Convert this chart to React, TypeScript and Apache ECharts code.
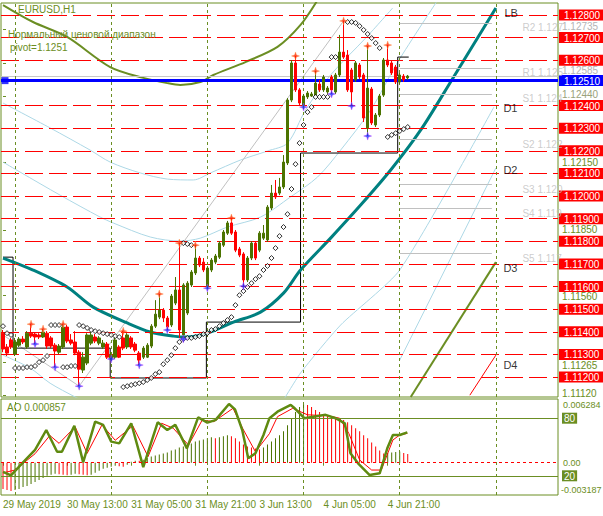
import React, { useEffect, useRef } from 'react';
import * as echarts from 'echarts';

const OLIVE = '#6b8e23';
const BULL = '#4b7300';
const BEAR = '#ff0000';
const FONT = 'Liberation Sans, Arial, sans-serif';

const slotCount = 139;
const categories = Array.from({ length: slotCount }, (_, i) => String(i));

// ---- candles (EURUSD H1) ----
const candleOpen = [
  1.11394, 1.11333, 1.11364, 1.11302, 1.11341, 1.11368, 1.11333, 1.11394, 1.1139, 1.11386,
  1.11377, 1.11394, 1.11373, 1.11341, 1.1131, 1.11333, 1.11421, 1.11364, 1.11355, 1.1131,
  1.11231, 1.11262, 1.1135, 1.11377, 1.1135, 1.11333, 1.11346, 1.11284, 1.11288, 1.11333,
  1.11373, 1.11333, 1.11373, 1.11346, 1.11306, 1.11288, 1.11288, 1.11337, 1.11425, 1.11465,
  1.11496, 1.11461, 1.1143, 1.11527, 1.11585, 1.11386, 1.11483, 1.11607, 1.1166, 1.11726,
  1.11708, 1.11598, 1.11673, 1.11708, 1.1173, 1.11783, 1.11836, 1.11881, 1.11841, 1.11766,
  1.11744, 1.11629, 1.11726, 1.11792, 1.11761, 1.11814, 1.11806, 1.11947, 1.12013, 1.12013,
  1.1204, 1.12146, 1.12424, 1.12588, 1.12469, 1.12398, 1.12438, 1.12442, 1.12446, 1.12495,
  1.12469, 1.1246, 1.12526, 1.1246, 1.12535, 1.12636, 1.12623, 1.12557, 1.12513, 1.12579,
  1.12535, 1.12301, 1.12473, 1.12314, 1.12358, 1.12446, 1.12601, 1.12588, 1.1257, 1.12504,
  1.1253, 1.12522,
];
const candleClose = [
  1.11324, 1.11306, 1.11333, 1.11355, 1.11368, 1.11355, 1.11394, 1.11381, 1.11377, 1.11377,
  1.11399, 1.11337, 1.11337, 1.11315, 1.11337, 1.11421, 1.11359, 1.1135, 1.11306, 1.11235,
  1.11288, 1.11386, 1.11386, 1.11359, 1.11373, 1.1135, 1.11288, 1.11297, 1.11364, 1.11288,
  1.11328, 1.11386, 1.11333, 1.11319, 1.11275, 1.11328, 1.11341, 1.11425, 1.11478, 1.11496,
  1.11461, 1.11421, 1.11558, 1.11585, 1.11408, 1.11607, 1.11615, 1.11664, 1.11726, 1.11695,
  1.11673, 1.11682, 1.11717, 1.11735, 1.11792, 1.11841, 1.11881, 1.11836, 1.11761, 1.11739,
  1.11629, 1.11726, 1.11792, 1.11726, 1.11836, 1.11836, 1.11951, 1.12013, 1.11996, 1.1204,
  1.1215, 1.12424, 1.12588, 1.12469, 1.12411, 1.12442, 1.12455, 1.12451, 1.12499, 1.12469,
  1.12526, 1.12477, 1.12469, 1.12535, 1.12636, 1.12614, 1.12469, 1.1246, 1.12588, 1.12526,
  1.12345, 1.12477, 1.12323, 1.12358, 1.12442, 1.12601, 1.12579, 1.12544, 1.12504, 1.12535,
  1.12513, 1.1253,
];
const candleLow = [
  1.1131, 1.11293, 1.11324, 1.11293, 1.11333, 1.11346, 1.11324, 1.11373, 1.11346, 1.11368,
  1.11373, 1.11324, 1.11328, 1.11244, 1.11302, 1.11324, 1.1135, 1.11341, 1.11297, 1.1116,
  1.11218, 1.11253, 1.11341, 1.1135, 1.11341, 1.11324, 1.1128, 1.1128, 1.1128, 1.11284,
  1.11319, 1.11324, 1.11324, 1.1131, 1.11253, 1.1128, 1.11284, 1.11328, 1.11417, 1.11456,
  1.11443, 1.11408, 1.11421, 1.11518, 1.11373, 1.11368, 1.11474, 1.11598, 1.11651, 1.11686,
  1.11664, 1.11593, 1.11664, 1.11699, 1.11722, 1.11775, 1.11828, 1.11828, 1.11752, 1.1173,
  1.11602, 1.1162, 1.11717, 1.11717, 1.11752, 1.11806, 1.11797, 1.11938, 1.11987, 1.12004,
  1.12031, 1.12137, 1.12415, 1.1246, 1.12402, 1.12393, 1.12429, 1.12438, 1.12442, 1.1246,
  1.1246, 1.12451, 1.12451, 1.12451, 1.12526, 1.12606, 1.1246, 1.12398, 1.12504, 1.12517,
  1.12327, 1.12265, 1.12314, 1.12305, 1.12349, 1.12438, 1.1257, 1.12535, 1.12495, 1.12495,
  1.12504, 1.12513,
];
const candleHigh = [
  1.11408, 1.11346, 1.11373, 1.11373, 1.11377, 1.11381, 1.11403, 1.11434, 1.11399, 1.11394,
  1.11412, 1.11403, 1.11381, 1.1135, 1.11346, 1.11434, 1.1143, 1.1139, 1.11403, 1.11319,
  1.1131, 1.11394, 1.11399, 1.1139, 1.11381, 1.11364, 1.11355, 1.1131, 1.11377, 1.11341,
  1.11403, 1.11394, 1.11381, 1.11355, 1.11315, 1.11337, 1.1135, 1.11434, 1.1154, 1.11567,
  1.11505, 1.1147, 1.11567, 1.11642, 1.11792, 1.11615, 1.11624, 1.11673, 1.11783, 1.11735,
  1.11726, 1.11691, 1.11726, 1.11744, 1.11801, 1.1185, 1.1189, 1.11903, 1.1185, 1.11775,
  1.11752, 1.11735, 1.11801, 1.11801, 1.11845, 1.11872, 1.1196, 1.12049, 1.12071, 1.1208,
  1.12181, 1.12433, 1.12601, 1.12619, 1.12477, 1.12451, 1.12464, 1.1246, 1.12552, 1.12513,
  1.12535, 1.12486, 1.12535, 1.12544, 1.12712, 1.12774, 1.12645, 1.12566, 1.12597, 1.12588,
  1.12544, 1.12663, 1.12482, 1.12367, 1.12451, 1.1261, 1.12667, 1.12597, 1.12579, 1.12544,
  1.12539, 1.12535,
];

// ---- price levels ----
const redLevels = [
  1.128, 1.127, 1.126, 1.124, 1.123, 1.122, 1.121, 1.12, 1.119, 1.118, 1.117, 1.116, 1.115, 1.114,
  1.113, 1.112,
];
const pivotPrice = 1.1251;
const bidLevel = 1.12528;
const scaleLabelsGray = [1.12735, 1.12585, 1.1244];
const scaleLabelsOlive = [1.1215, 1.1185, 1.1156, 1.11265, 1.1112];

const pivotNames = ['R2 1.127', 'R1 1.125', 'S1 1.124', 'S2 1.122', 'S3 1.120', 'S4 1.119', 'S5 1.117'];
const pivotLevels = [1.12765, 1.12566, 1.12451, 1.12252, 1.12053, 1.11947, 1.11748];
const pivotFrom = 99;
const pivotTo = 122;

const daySeparators = [3, 27, 51, 75, 99, 123];

const timeLabelIdx = [0, 16, 32, 48, 64, 80, 96];
const timeLabels = ['29 May 2019', '30 May 13:00', '31 May 05:00', '31 May 21:00', '3 Jun 13:00', '4 Jun 05:00', '4 Jun 21:00'];

// ---- overlay curves: [bar index, price] ----
const lbCurve = [
  [0, 1.11726], [7.5, 1.11673], [16, 1.11598], [22.5, 1.11509], [31, 1.11439], [36.75, 1.11399],
  [42.5, 1.11381], [46, 1.11377], [51, 1.11394], [57.5, 1.11443], [64.25, 1.11487], [70, 1.11571],
  [74.25, 1.11673], [81.75, 1.11814], [89.25, 1.1196], [96.75, 1.12115], [104.25, 1.12292],
  [112, 1.12513], [123, 1.12831],
];
const oliveCurve = [
  [0, 1.12844], [7.5, 1.12769], [16, 1.12703], [26.75, 1.1257], [35, 1.12522], [41, 1.12499],
  [44.25, 1.12491], [49.25, 1.12504], [52.5, 1.12535], [60.5, 1.12592], [68.5, 1.12659],
  [74.25, 1.12756], [78.5, 1.12866],
];
const d3Line = [[101.75, 1.11112], [123, 1.11708]];
const d4Line = [[116.5, 1.1112], [123, 1.11297]];
const channelUpper = [
  [0, 1.12411], [11.75, 1.12301], [21.75, 1.12203], [26.75, 1.1215], [34.25, 1.12102], [41, 1.12075],
  [47.5, 1.12071], [51.75, 1.12102], [59.25, 1.12159], [66, 1.12199], [71, 1.12234], [75.5, 1.1238],
  [81.75, 1.12535], [90.5, 1.12698], [97.25, 1.12831],
];
const channelMiddle = [
  [0, 1.1215], [4.25, 1.12106], [14.25, 1.12004], [24.25, 1.11907], [27.5, 1.11881], [36.75, 1.11819],
  [44.25, 1.11801], [49.25, 1.11814], [56, 1.11863], [64.25, 1.11907], [71.75, 1.11996],
  [78.5, 1.12084], [84.25, 1.12203], [91.75, 1.1238], [98.5, 1.12592], [108.5, 1.12866],
];
const channelLowerLeft = [[0, 1.11297], [6.75, 1.1124], [11.75, 1.11173], [18, 1.11112], [24.25, 1.11054]];
const channelLowerRight = [[69.25, 1.11076], [74.25, 1.11218], [84.25, 1.1143], [99, 1.11673], [122.5, 1.12393]];
const d2Line = [[99, 1.11275], [123, 1.12124]];
const zigzag = [[0, 1.11386], [19, 1.1116], [85, 1.12774]];
const rangeSteps = [
  [0, 1.1173], [2.5, 1.1173], [2.5, 1.11328], [26.75, 1.11328], [26.75, 1.11196], [50.75, 1.11196],
  [50.75, 1.11443], [74.25, 1.11443], [74.25, 1.1219], [98.5, 1.1219], [98.5, 1.12614], [101.25, 1.12614],
];

const sarPoints = [
  [0, 1.11425], [1, 1.11394], [2, 1.11386],
  [3, 1.1124], [4, 1.1124], [5, 1.1124], [6, 1.11244], [7, 1.11244], [8, 1.11249], [9, 1.11266], [10, 1.11275], [11, 1.11293],
  [12, 1.1143], [13, 1.1143], [14, 1.1143],
  [15, 1.11244], [16, 1.11244], [17, 1.11249], [18, 1.11249],
  [19, 1.1143], [20, 1.11425], [21, 1.11417], [22, 1.11408], [23, 1.11403], [24, 1.11399], [25, 1.11394], [26, 1.1139], [27, 1.11386], [28, 1.11381], [29, 1.11377],
  [30, 1.11156], [31, 1.1116], [32, 1.11165], [33, 1.11169], [34, 1.11173], [35, 1.11178], [36, 1.11187], [37, 1.11196], [38, 1.11213], [39, 1.11222], [40, 1.11257], [41, 1.11275], [42, 1.11297], [43, 1.11328], [44, 1.11355],
  [45, 1.11368], [46, 1.11373], [47, 1.11373], [48, 1.11377], [49, 1.11381], [50, 1.1139], [51, 1.11394], [52, 1.11408], [53, 1.11412], [54, 1.11425], [55, 1.11439], [56, 1.11452], [57, 1.11465], [58, 1.11518], [59, 1.11562], [60, 1.1158], [61, 1.11598], [62, 1.11615], [63, 1.11633], [64, 1.11646], [65, 1.11673], [66, 1.11691], [67, 1.11726], [68, 1.1177], [69, 1.11823], [70, 1.11863], [71, 1.1192], [72, 1.12031], [73, 1.12141], [74, 1.12234], [75, 1.12314], [76, 1.12371], [77, 1.12393],
  [45, 1.11792], [46, 1.11788], [47, 1.11783],
  [78, 1.12438], [79, 1.12438], [80, 1.12438], [81, 1.12438],
  [82, 1.12614], [83, 1.12614],
  [86, 1.12769], [87, 1.12769], [88, 1.12765], [89, 1.12751], [90, 1.12734], [91, 1.12716], [92, 1.12698], [93, 1.12676], [94, 1.12654],
  [96, 1.12261], [97, 1.1227], [98, 1.12278], [99, 1.12287], [100, 1.12296], [101, 1.12305],
];
const fractalUp = [
  [7, 1.11434], [10, 1.11412], [15, 1.11434], [30, 1.11403], [39, 1.11567], [44, 1.11792], [48, 1.11783],
  [57, 1.11903], [73, 1.12619], [78, 1.12552], [85, 1.12774], [91, 1.12663], [96, 1.12667],
];
const fractalDown = [
  [8, 1.11346], [13, 1.11244], [19, 1.1116], [27, 1.1128], [34, 1.11253], [41, 1.11408], [45, 1.11368],
  [51, 1.11593], [60, 1.11602], [75, 1.12393], [82, 1.12451], [87, 1.12398], [91, 1.12265],
];
const lineTags = [
  { name: 'LB', value: [125, 1.12809] },
  { name: 'D1', value: [124.75, 1.12389] },
  { name: 'D2', value: [124.75, 1.12115] },
  { name: 'D3', value: [124.75, 1.11682] },
  { name: 'D4', value: [124.75, 1.11253] },
];

// ---- lower panel ----
const aoValues = [
  -0.0026, -0.0027, -0.0028,
  -0.0027, -0.0026, -0.0024, -0.0023, -0.0021, -0.0019, -0.0017, -0.0015, -0.0013, -0.0012, -0.0011,
  -0.00115, -0.0012, -0.00125, -0.0012, -0.0011, -0.00115, -0.0012, -0.00125, -0.0012,
  -0.001, -0.0008, -0.0006, -0.0005, -0.0004, -0.0003, -0.00035, -0.0004, -0.0002,
  0.0001, 0.0002, 0.00018, 0.0003, 0.0005, 0.0006, 0.0007,
  0.0008, 0.0009, 0.001, 0.0012, 0.0013, 0.0015, 0.0016, 0.0018, 0.0019, 0.0021, 0.0022, 0.0023, 0.0024,
  0.0025, 0.0024, 0.0025, 0.0026, 0.0027, 0.0026,
  0.0024, 0.0021, 0.0018, 0.0016, 0.0015, 0.0014, 0.0013,
  0.0015, 0.0018, 0.0021, 0.0024, 0.0027, 0.0031, 0.0037, 0.0044, 0.005, 0.0055, 0.0058,
  0.0057, 0.0055, 0.0052, 0.005, 0.0048, 0.0047, 0.0045, 0.0044, 0.0043, 0.0042, 0.004, 0.0037, 0.0034, 0.0031, 0.0027, 0.0024, 0.002, 0.0016, 0.0012, 0.0009,
  0.00095, 0.001, 0.00105, 0.0011, 0.00095, 0.000857,
];
const aoTicks = [0.006284, 0, -0.003187];
const stochK = [
  [0, 24], [2, 20.5], [5, 34], [8, 47], [10.8, 67.7], [13.5, 45], [14.7, 45], [17.8, 72], [20, 34], [23, 76.4],
  [25, 73], [27, 55.6], [29, 53.8], [32, 74.7], [35, 29], [38.6, 75.7], [41, 67.7], [43, 73], [45.9, 48.6],
  [48.7, 80.9], [51, 75.4], [53, 78], [56.4, 94.8], [57.9, 89.2], [59.7, 67.7], [61.2, 38.2], [63, 43.4],
  [65, 62.5], [66.5, 80], [68.5, 86.8], [71.8, 93.8], [72.8, 90.3], [75.2, 80], [80.5, 83.5], [83, 80],
  [85.3, 74.7], [86.7, 43.4], [88.6, 33], [91.5, 20.8], [94, 22.6], [95.9, 48.6], [97.3, 62.5], [99, 62.5],
  [100.9, 65.3],
];
const stochD = [
  [0, 23], [3, 26], [8, 43], [11.7, 62], [14, 53.8], [18, 71], [21, 43.4], [24.7, 73], [28, 57], [32.4, 72],
  [36.2, 40], [39.6, 74.7], [42.5, 69.5], [46.3, 52], [49.7, 78], [52.6, 76.4], [57.4, 90.3], [59.8, 69.4],
  [63, 45], [66.5, 64], [68.5, 81.6], [72.3, 90.3], [76, 83.5], [81, 82.6], [84, 80], [86.3, 64.2], [89, 36.5],
  [92, 26], [94.4, 26], [97.3, 57.3], [99, 62.5], [100.9, 64.2],
];
const stochLevels = [80, 20];

const near = (a: number, b: number) => Math.abs(a - b) < 1e-7;

function buildOption() {
  const candles = candleOpen.map((o, i) => [o, candleClose[i], candleLow[i], candleHigh[i]]);
  const aoBars = aoValues.map((v, i) => ({
    value: v,
    itemStyle: { color: i > 0 && v > aoValues[i - 1] ? BULL : BEAR },
  }));
  const starPath = 'path://M5,0 L6.2,3.8 L10,5 L6.2,6.2 L5,10 L3.8,6.2 L0,5 L3.8,3.8 Z';
  const thinLine = (data: number[][], color: string, width = 1, smooth: number | boolean = false, z = 2) => ({
    type: 'line',
    xAxisIndex: 1,
    yAxisIndex: 0,
    data,
    showSymbol: false,
    smooth,
    silent: true,
    lineStyle: { color, width },
    z,
  });
  const hLines = (levels: number[], lineStyle: any, z: number) => ({
    type: 'line',
    xAxisIndex: 1,
    yAxisIndex: 0,
    data: [],
    silent: true,
    z,
    markLine: {
      silent: true,
      symbol: ['none', 'none'],
      label: { show: false },
      lineStyle,
      data: levels.map((v) => [{ coord: [-0.5, v] }, { coord: [slotCount - 0.5, v] }]),
    },
  });
  // small vertical nudges for scale labels that sit close to a boxed label
  const nudge: Record<string, string> = {
    '1.12735': 'gu',
    '1.12585': 'gd',
    '1.12440': 'gu2',
    '1.11560': 'od1',
    '1.11265': 'od',
    '1.11120': 'ou',
  };
  const priceFmt = (v: number) => {
    const s = v.toFixed(5);
    if (near(v, pivotPrice)) return `{b|${s}}`;
    if (redLevels.some((r) => near(r, v))) return `{r|${s}}`;
    if (nudge[s]) return `{${nudge[s]}|${s}}`;
    return `{o|${s}}`;
  };
  const txt = (c: string, pad: number[]) => ({ color: c, padding: pad, fontSize: 10, lineHeight: 9, fontFamily: FONT });

  return {
    animation: false,
    backgroundColor: '#ffffff',
    textStyle: { fontFamily: FONT },
    title: [
      { text: 'EURUSD,H1', left: 18, top: 4, padding: 0, textStyle: { fontSize: 10, color: OLIVE, fontWeight: 'normal', fontFamily: FONT } },
      { text: 'Нормальный ценовой диапазон', left: 8, top: 29, padding: 0, textStyle: { fontSize: 10, color: OLIVE, fontWeight: 'normal', fontFamily: FONT } },
      { text: 'pivot=1.1251', left: 10, top: 42, padding: 0, textStyle: { fontSize: 10, color: OLIVE, fontWeight: 'normal', fontFamily: FONT } },
      { text: 'AO 0.000857', left: 7, top: 402, padding: 0, textStyle: { fontSize: 10, color: OLIVE, fontWeight: 'normal', fontFamily: FONT } },
    ],
    grid: [
      { left: 1, top: 3, width: 557, height: 394, show: true, borderColor: OLIVE, borderWidth: 1, backgroundColor: 'transparent', containLabel: false, outerBoundsMode: 'none' },
      { left: 1, top: 399, width: 557, height: 96, show: true, borderColor: OLIVE, borderWidth: 1, backgroundColor: 'transparent', containLabel: false, outerBoundsMode: 'none' },
    ],
    xAxis: [
      { type: 'category', gridIndex: 0, data: categories, boundaryGap: true, show: false },
      { type: 'value', gridIndex: 0, min: -0.5, max: slotCount - 0.5, show: false },
      {
        type: 'category',
        gridIndex: 1,
        data: categories,
        boundaryGap: true,
        axisLine: { show: false },
        axisTick: {
          show: true,
          alignWithLabel: true,
          interval: (i: number) => timeLabelIdx.includes(i),
          length: 3,
          lineStyle: { color: OLIVE },
        },
        axisLabel: {
          interval: (i: number) => timeLabelIdx.includes(i),
          formatter: (_v: string, i: number) => timeLabels[timeLabelIdx.indexOf(i)] ?? '',
          align: 'left',
          margin: 4,
          color: OLIVE,
          fontSize: 10,
          fontFamily: FONT,
        },
        splitLine: { show: false },
      },
      { type: 'value', gridIndex: 1, min: -0.5, max: slotCount - 0.5, show: false },
    ],
    yAxis: [
      {
        type: 'value',
        gridIndex: 0,
        position: 'right',
        min: 1.11112,
        max: 1.12853,
        scale: true,
        splitLine: { show: false },
        axisLine: { show: false },
        axisTick: { show: true, customValues: [...scaleLabelsGray, ...scaleLabelsOlive], length: 3, lineStyle: { color: OLIVE } },
        axisLabel: {
          customValues: [...scaleLabelsGray, ...scaleLabelsOlive, ...redLevels, pivotPrice],
          margin: 1,
          formatter: priceFmt,
          fontFamily: FONT,
          fontSize: 10,
          rich: {
            r: { backgroundColor: '#ff0000', color: '#ffffff', padding: [1, 8, 0, 5], fontSize: 10, lineHeight: 10, fontFamily: FONT },
            b: { backgroundColor: '#0000ff', color: '#ffffff', padding: [1, 8, 0, 5], fontSize: 10, lineHeight: 10, fontFamily: FONT },
            gu: txt('#b4b4b4', [0, 0, 6, 3]),
            gu2: txt('#9aa27a', [0, 0, 4, 3]),
            gd: txt('#b4b4b4', [14, 0, 0, 3]),
            o: txt(OLIVE, [0, 0, 0, 3]),
            od1: txt(OLIVE, [2, 0, 0, 3]),
            od: txt(OLIVE, [6, 0, 0, 3]),
            ou: txt(OLIVE, [0, 0, 4, 3]),
          },
        },
      },
      {
        type: 'value',
        gridIndex: 1,
        position: 'right',
        min: -0.003187,
        max: 0.006284,
        splitLine: { show: false },
        axisLine: { show: false },
        axisTick: { show: false },
        axisLabel: {
          customValues: aoTicks,
          margin: 3,
          fontFamily: FONT,
          fontSize: 9,
          formatter: (v: number) => {
            if (near(v, 0)) return '{z|0.00}';
            if (v > 0) return `{t|${v.toFixed(6)}}`;
            return `{m|${v.toFixed(6)}}`;
          },
          rich: {
            t: { color: OLIVE, padding: [11, 0, 0, 2], fontSize: 9, lineHeight: 10, fontFamily: FONT },
            z: { color: OLIVE, padding: [0, 0, 0, 2], fontSize: 9, lineHeight: 10, fontFamily: FONT },
            m: { color: OLIVE, padding: [0, 0, 10, 0], fontSize: 9, lineHeight: 10, fontFamily: FONT },
          },
        },
      },
      {
        type: 'value',
        gridIndex: 1,
        position: 'right',
        min: 0,
        max: 100,
        splitLine: { show: false },
        axisLine: { show: false },
        axisTick: { show: false },
        axisLabel: {
          customValues: stochLevels,
          margin: 4,
          formatter: (v: number) => `{s|${v}}`,
          rich: {
            s: { backgroundColor: OLIVE, color: '#ffffff', padding: [1, 2, 0, 2], fontSize: 10, lineHeight: 11, fontFamily: FONT },
          },
        },
      },
    ],
    series: [
      // horizontal levels
      hLines(redLevels, { color: '#ff0000', type: [18, 6], width: 1 }, 1),
      hLines([bidLevel], { color: '#c8c8c8', type: 'solid', width: 1 }, 1),
      // channel / helper lines
      thinLine(channelUpper, '#add8e6', 1, 0.3),
      thinLine(channelMiddle, '#add8e6', 1, 0.3),
      thinLine(channelLowerLeft, '#add8e6', 1, 0.3),
      thinLine(channelLowerRight, '#add8e6', 1, 0.2),
      thinLine(d2Line, '#add8e6', 1),
      thinLine(zigzag, '#c0c0c0', 1),
      thinLine(rangeSteps, '#000000', 1, false, 3),
      thinLine(d4Line, '#ff0000', 1),
      thinLine(d3Line, '#6b8e23', 2),
      thinLine(oliveCurve, '#6b8e23', 2, 0.3),
      {
        ...thinLine(lbCurve, '#008080', 3, 0.3, 3),
        markLine: {
          silent: true,
          symbol: ['none', 'none'],
          label: { show: false },
          lineStyle: { color: OLIVE, type: [3, 3], width: 1 },
          data: daySeparators.map((i) => ({ xAxis: i })),
        },
      },
      {
        type: 'line',
        xAxisIndex: 1,
        yAxisIndex: 0,
        data: [],
        silent: true,
        markLine: {
          silent: true,
          symbol: ['none', 'none'],
          label: { show: false },
          lineStyle: { color: '#c0c0c0', width: 1, type: 'solid' },
          data: pivotLevels.map((v) => [{ coord: [pivotFrom, v] }, { coord: [pivotTo, v] }]),
        },
      },
      {
        type: 'candlestick',
        xAxisIndex: 0,
        yAxisIndex: 0,
        data: candles,
        barWidth: 3,
        silent: true,
        z: 5,
        itemStyle: { color: BULL, color0: BEAR, borderColor: BULL, borderColor0: BEAR, borderWidth: 1 },
      },
      {
        type: 'scatter',
        xAxisIndex: 1,
        yAxisIndex: 0,
        data: sarPoints,
        symbol: 'diamond',
        symbolSize: 5,
        silent: true,
        itemStyle: { color: '#ffffff', borderColor: '#000000', borderWidth: 1 },
        z: 6,
      },
      {
        type: 'scatter',
        xAxisIndex: 1,
        yAxisIndex: 0,
        data: fractalUp,
        symbol: starPath,
        symbolSize: 8,
        silent: true,
        itemStyle: { color: '#ff2000', borderColor: '#ff9040', borderWidth: 0.5 },
        z: 7,
      },
      {
        type: 'scatter',
        xAxisIndex: 1,
        yAxisIndex: 0,
        data: fractalDown,
        symbol: starPath,
        symbolSize: 8,
        silent: true,
        itemStyle: { color: '#1030ff', borderColor: '#c040ff', borderWidth: 0.5 },
        z: 7,
      },
      {
        type: 'scatter',
        xAxisIndex: 1,
        yAxisIndex: 0,
        data: pivotLevels.map((v, k) => ({ name: pivotNames[k], value: [129.5, v] })),
        symbol: 'circle',
        symbolSize: 1,
        silent: true,
        itemStyle: { color: 'rgba(0,0,0,0)' },
        label: {
          show: true,
          position: 'right',
          distance: 0,
          offset: [0, 5],
          formatter: '{b}',
          color: '#c0c0c0',
          fontSize: 10,
          fontFamily: FONT,
        },
        z: 4,
      },
      {
        type: 'scatter',
        xAxisIndex: 1,
        yAxisIndex: 0,
        data: lineTags,
        symbol: 'circle',
        symbolSize: 1,
        silent: true,
        itemStyle: { color: 'rgba(0,0,0,0)' },
        label: { show: true, position: 'right', distance: 0, formatter: '{b}', color: '#000000', fontSize: 11, fontFamily: FONT },
        z: 8,
      },
      {
        type: 'scatter',
        xAxisIndex: 1,
        yAxisIndex: 0,
        data: [[0.5, pivotPrice]],
        symbol: 'rect',
        symbolSize: 7,
        silent: true,
        itemStyle: { color: '#0000ff' },
        z: 11,
      },
      hLines([pivotPrice], { color: '#0000ff', type: 'solid', width: 3 }, 10),
      // lower panel
      {
        type: 'bar',
        xAxisIndex: 2,
        yAxisIndex: 1,
        data: aoBars,
        barWidth: 1,
        silent: true,
        z: 2,
      },
      {
        type: 'line',
        xAxisIndex: 3,
        yAxisIndex: 1,
        data: [],
        silent: true,
        markLine: {
          silent: true,
          symbol: ['none', 'none'],
          label: { show: false },
          lineStyle: { color: '#ff0000', type: [3, 3], width: 1 },
          data: [[{ coord: [-0.5, 0] }, { coord: [slotCount - 0.5, 0] }]],
        },
      },
      {
        type: 'line',
        xAxisIndex: 3,
        yAxisIndex: 2,
        data: stochD,
        showSymbol: false,
        silent: true,
        lineStyle: { color: '#ff0000', width: 1 },
        z: 3,
      },
      {
        type: 'line',
        xAxisIndex: 3,
        yAxisIndex: 2,
        data: stochK,
        showSymbol: false,
        silent: true,
        lineStyle: { color: '#5f8a10', width: 2.5 },
        z: 4,
        markLine: {
          silent: true,
          symbol: ['none', 'none'],
          label: { show: false },
          data: [
            ...daySeparators.map((i) => ({ xAxis: i, lineStyle: { color: OLIVE, type: [3, 3], width: 1 } })),
            ...stochLevels.map((v) => [
              { coord: [-0.5, v], lineStyle: { color: OLIVE, type: 'solid', width: 1 } },
              { coord: [slotCount - 0.5, v] },
            ]),
          ],
        },
      },
    ],
  };
}

export default function App() {
  const ref = useRef<HTMLDivElement>(null);
  useEffect(() => {
    if (!ref.current) return;
    const chart = echarts.init(ref.current, null, { renderer: 'svg' });
    chart.setOption(buildOption() as any);
    return () => chart.dispose();
  }, []);
  return (
    <div
      ref={ref}
      style={{ position: 'fixed', left: 0, top: 0, width: 603, height: 516, background: '#ffffff' }}
    />
  );
}
